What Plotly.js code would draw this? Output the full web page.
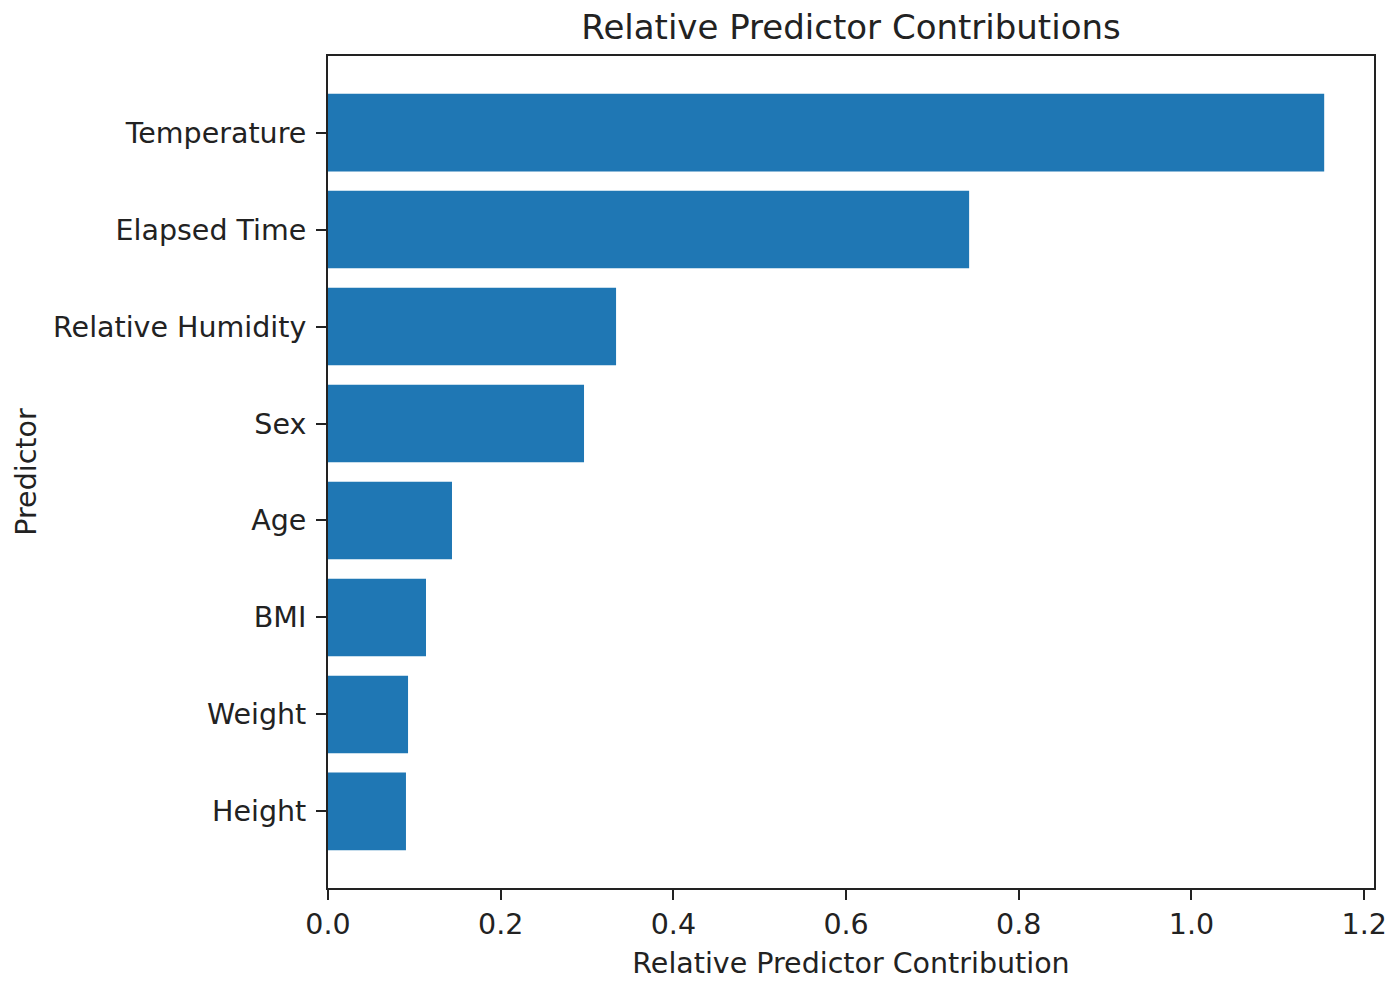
<!DOCTYPE html>
<html>
<head>
<meta charset="utf-8">
<script src="https://cdn.plot.ly/plotly-3.0.1.min.js"></script>
<style>html,body{margin:0;padding:0;background:#fff;}#chart{width:1400px;height:983px;}</style>
</head>
<body>
<div id="chart"></div>
<script>
const predictors = ["Height", "Weight", "BMI", "Age", "Sex", "Relative Humidity", "Elapsed Time", "Temperature"];
const contributions = [0.0903, 0.0927, 0.1135, 0.1436, 0.2965, 0.3336, 0.7425, 1.1537];
const xTicks = [0, 0.2, 0.4, 0.6, 0.8, 1.0, 1.2];
const xTickLabels = ["0.0", "0.2", "0.4", "0.6", "0.8", "1.0", "1.2"];

const font = "DejaVu Sans, sans-serif";
const maxVal = Math.max(...contributions);

Plotly.newPlot("chart", [{
  type: "bar",
  orientation: "h",
  y: predictors,
  x: contributions,
  width: 0.8,
  marker: {color: "#1f77b4", line: {width: 0}},
  hoverinfo: "x+y"
}], {
  width: 1400, height: 983,
  margin: {l: 328, r: 26, t: 56, b: 95, pad: 0},
  paper_bgcolor: "#fff", plot_bgcolor: "#fff",
  font: {family: font, size: 28.5, color: "#222"},
  showlegend: false,
  title: {text: "Relative Predictor Contributions", font: {family: font, size: 34, color: "#222"},
          x: 0.5, xref: "paper", xanchor: "center", y: 1 - 27/983, yref: "container", yanchor: "middle"},
  xaxis: {
    range: [0, maxVal * 1.05],
    tickvals: xTicks, ticktext: xTickLabels,
    ticks: "outside", ticklen: 10, tickwidth: 2, tickcolor: "#222",
    showline: true, linecolor: "#222", linewidth: 2, mirror: true,
    showgrid: false, zeroline: false,
    tickfont: {family: font, size: 28.5, color: "#222"},
    title: {text: "Relative Predictor Contribution", font: {family: font, size: 28.5, color: "#222"}, standoff: 13}
  },
  yaxis: {
    type: "category",
    categoryorder: "array", categoryarray: predictors,
    range: [-0.79, predictors.length - 1 + 0.79],
    ticks: "outside", ticklen: 10, tickwidth: 2, tickcolor: "#222",
    ticklabelstandoff: 4,
    showline: true, linecolor: "#222", linewidth: 2, mirror: true,
    showgrid: false, zeroline: false,
    tickfont: {family: font, size: 28.5, color: "#222"},
    title: {text: "Predictor", font: {family: font, size: 28.5, color: "#222"}, standoff: 8}
  },
  bargap: 0.2
}, {displayModeBar: false, staticPlot: true});
</script>
</body>
</html>
